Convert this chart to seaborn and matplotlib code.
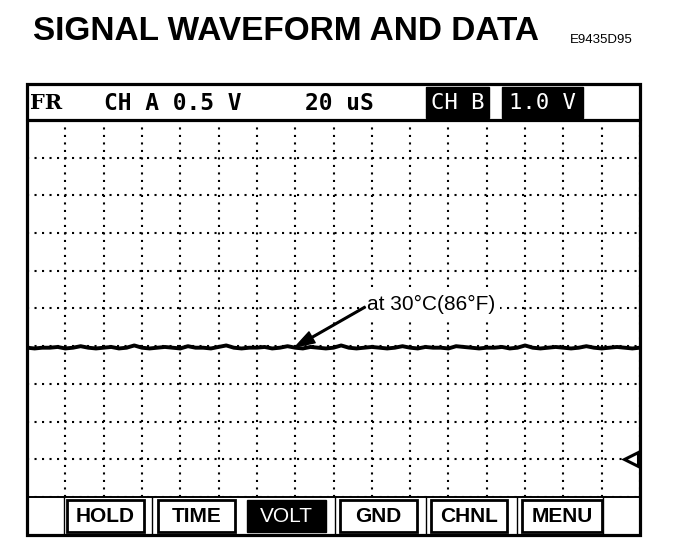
import numpy as np
import pandas as pd
import matplotlib
matplotlib.use("Agg")
import matplotlib.pyplot as plt
from matplotlib.patches import Rectangle
import seaborn as sns

# data (20 uS/div, 0.5 V/div, 16 x 10 divisions)
time_us = np.arange(0, 321, 4)
trace_v = [1.98, 1.97, 1.98, 1.98, 1.99, 1.97, 1.98, 2.00, 1.98, 1.97,
           1.98, 1.99, 1.97, 1.98, 2.01, 1.98, 1.97, 1.98, 1.99, 1.98,
           1.97, 2.00, 1.98, 1.98, 1.97, 1.99, 2.01, 1.98, 1.97, 1.98,
           1.98, 1.99, 1.97, 1.98, 2.00, 1.98, 1.97, 1.99, 1.98, 1.97,
           1.98, 2.01, 1.98, 1.97, 1.98, 1.99, 1.98, 1.97, 1.98, 2.00,
           1.98, 1.97, 1.99, 1.98, 1.98, 1.97, 2.00, 1.99, 1.98, 1.97,
           1.98, 1.98, 1.99, 1.97, 1.98, 2.01, 1.98, 1.97, 1.98, 1.99,
           1.98, 1.97, 1.98, 2.00, 1.98, 1.97, 1.98, 1.99, 1.98, 1.97, 1.98]
x_ticks = np.arange(0, 321, 20)
y_ticks = np.arange(0, 5.01, 0.5)
ch_b_ground_v = 0.5

title = "SIGNAL WAVEFORM AND DATA"
fig_code = "E9435D95"
note = "at 30°C(86°F)"
buttons = ["HOLD", "TIME", "VOLT", "GND", "CHNL", "MENU"]
active_button = "VOLT"

sns.set_style("white")
plt.rcParams['font.family'] = ['Liberation Sans', 'DejaVu Sans']
plt.rcParams['text.color'] = 'black'

fig = plt.figure(figsize=(6.88, 5.6), dpi=100)

# scope screen area
ax = fig.add_axes([27/688, (560-497)/560, 613/688, 377/560])
df = pd.DataFrame({"t": time_us, "v": trace_v})
sns.lineplot(data=df, x="t", y="v", ax=ax, color="black", lw=2.8, errorbar=None)
ax.set_xlim(0, 320)
ax.set_ylim(0, 5)
ax.set_xticks(x_ticks)
ax.set_yticks(y_ticks)
ax.tick_params(length=0, labelbottom=False, labelleft=False)
ax.set_xlabel("")
ax.set_ylabel("")
ax.grid(True, color="black", linestyle=(0, (1, 2.6)), lw=1.5)
for s in ax.spines.values():
    s.set_visible(False)

# CH B ground marker
ax.plot([315.5], [ch_b_ground_v], marker="<", ms=10, mfc="white", mec="black",
        mew=2.2, clip_on=False)

# temperature note and arrow
ax.text(177.5, 2.56, note, fontsize=15, ha="left", va="center",
        bbox=dict(boxstyle="square,pad=0.25", fc="white", ec="none"))
ax.annotate("", xy=(140, 1.99), xytext=(176.5, 2.52),
            arrowprops=dict(facecolor="black", edgecolor="black", width=1.2,
                            headwidth=9, headlength=14, shrink=0))

# frame, header and button bar in pixel coords
ov = fig.add_axes([0, 0, 1, 1])
ov.set_xlim(0, 688)
ov.set_ylim(560, 0)
ov.axis("off")
ov.patch.set_alpha(0)

ov.add_patch(Rectangle((27, 84), 613, 451, fill=False, ec="black", lw=2.3))
ov.plot([27, 640], [120, 120], color="black", lw=2.3)
ov.plot([27, 640], [497, 497], color="black", lw=1.4)

mono = "DejaVu Sans Mono"
ov.text(30, 103, "FR", family="DejaVu Serif", weight="bold", fontsize=15, va="center")
ov.text(104, 103, "CH A 0.5 V", family=mono, weight="bold", fontsize=16.5, va="center")
ov.text(305, 103, "20 uS", family=mono, weight="bold", fontsize=16.5, va="center")
ov.add_patch(Rectangle((426, 87), 63, 31, color="black"))
ov.add_patch(Rectangle((502, 87), 81, 31, color="black"))
ov.text(457.5, 103, "CH B", family=mono, fontsize=16, color="white", ha="center", va="center")
ov.text(542.5, 103, "1.0 V", family=mono, fontsize=16, color="white", ha="center", va="center")

# soft keys
for xs in [64, 152, 335, 426, 517, 603]:
    ov.plot([xs, xs], [497, 535], color="black", lw=1.0)
left = [67, 158, 247, 340, 431, 522]
width = [77, 77, 79, 77, 76, 80]
for lab, x0, w in zip(buttons, left, width):
    if lab == active_button:
        ov.add_patch(Rectangle((x0, 500), w, 32, color="black"))
        ov.text(x0 + w/2, 517, lab, fontsize=15, color="white", ha="center", va="center")
    else:
        ov.add_patch(Rectangle((x0, 500), w, 32, fc="white", ec="black", lw=2.0))
        ov.text(x0 + w/2, 517, lab, fontsize=15, weight="bold", ha="center", va="center")

fig.text(33/688, 1 - 32/560, title, fontsize=24, weight="bold", va="center", color="black")
fig.text(570/688, 1 - 40/560, fig_code, fontsize=9.5, va="center", color="black")

fig.savefig("out.png", dpi=100)
